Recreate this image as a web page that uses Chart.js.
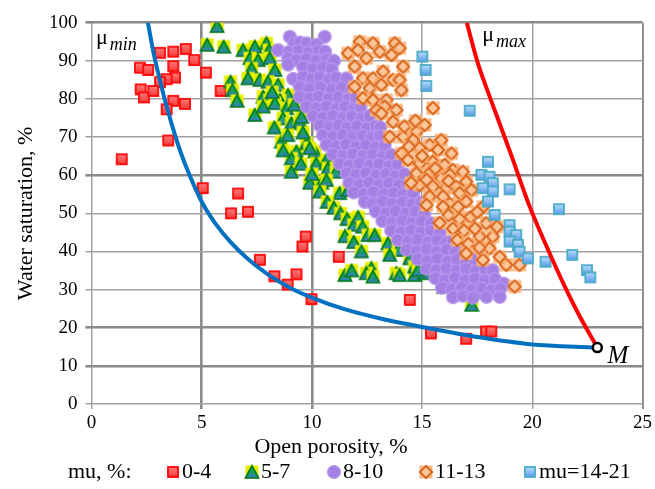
<!DOCTYPE html>
<html>
<head>
<meta charset="utf-8">
<script src="https://cdn.jsdelivr.net/npm/chart.js@4.4.0/dist/chart.umd.min.js"></script>
<style>
  html, body { margin: 0; padding: 0; background: #fff; }
  #wrap { width: 655px; height: 489px; }
</style>
</head>
<body>
<div id="wrap"><canvas id="chart" width="655" height="489"></canvas></div>
<script>
// points are [open porosity %, water saturation %]
var mu0_4 = [
  [3.11,92.1],[3.71,92.4],[4.28,93.1],[4.66,90.2],[2.20,88.2],[2.57,87.6],[3.71,88.6],[3.79,85.6],
  [3.41,85.2],[3.11,84.4],[5.19,86.9],[2.23,82.5],[2.38,80.4],[2.80,82.1],[3.71,79.5],[4.24,78.7],
  [3.41,77.3],[5.86,82.1],[3.48,69.1],[1.37,64.2],[5.05,56.6],[6.65,55.2],[6.33,50.0],[7.10,50.4],
  [7.64,37.8],[8.30,33.5],[8.90,31.3],[9.30,34.0],[9.57,41.3],[9.72,43.9],[9.98,27.5],[11.22,38.6],
  [14.44,27.3],[15.40,18.5],[17.00,17.1],[17.90,19.0],[18.14,19.0]
];
var mu5_7 = [
  [5.70,99.1],[5.25,94.2],[6.00,93.7],[6.88,92.8],[7.41,93.7],[7.94,94.6],[8.06,92.8],[7.19,90.7],
  [7.56,90.2],[8.09,90.7],[7.26,88.0],[8.32,87.6],[6.31,84.5],[6.40,82.3],[6.61,79.5],[7.10,85.4],
  [7.64,85.0],[8.01,84.5],[8.47,83.7],[8.92,81.0],[7.79,80.6],[8.09,79.7],[8.55,79.7],[7.41,75.8],
  [7.79,78.0],[8.32,78.9],[8.85,77.6],[8.69,74.9],[9.07,73.6],[9.45,74.0],[9.53,75.3],[8.62,68.8],
  [9.30,66.2],[9.07,64.4],[9.07,60.9],[9.76,68.4],[10.13,66.2],[9.90,67.1],[10.20,63.1],[10.66,64.0],
  [10.73,61.8],[11.10,60.9],[9.90,58.0],[10.44,58.0],[10.66,58.7],[10.36,55.7],[11.26,55.3],[11.64,56.1],
  [8.20,81.8],[9.20,78.5],[8.30,72.5],[8.90,70.5],[9.60,71.2],[8.70,66.5],[9.50,63.0],[10.00,60.3],
  [10.70,53.0],[11.00,51.5],[11.30,50.0],[11.60,48.5],[11.90,47.0],[12.10,49.0],[12.30,46.5],[11.50,44.0],
  [11.90,42.5],[11.50,33.8],[11.80,35.0],
  [12.25,40.0],[12.55,44.3],[12.85,44.3],[13.45,42.1],[13.91,40.4],[13.53,39.1],[14.44,38.2],[15.04,36.9],
  [12.70,35.6],[12.47,34.3],[12.77,33.4],[13.83,34.3],[13.98,33.8],[14.66,33.8],[15.12,34.3],[14.66,36.0],
  [14.81,35.1],[16.00,30.7],[16.90,33.8],[17.25,26.0],[17.50,29.4]
];
var mu8_10 = [
  [9.00,96.3],[10.58,96.3],
  [9.20,94.6],[9.45,94.8],[9.76,94.6],[10.20,94.2],
  [8.47,92.8],[8.95,92.3],[9.40,92.6],[9.85,92.2],[10.30,92.7],[10.60,92.4],
  [8.92,90.7],[9.30,90.2],[9.75,90.6],[10.20,90.1],[10.65,90.4],[11.00,90.0],
  [8.92,89.0],[9.60,88.4],[10.06,88.0],[10.50,88.3],[10.90,87.8],
  [9.15,85.3],[9.60,85.8],[10.00,85.2],[10.36,85.7],[10.80,85.1],[11.10,85.6],[11.57,85.4],
  [9.45,83.2],[9.90,82.7],[10.40,83.1],[10.90,82.6],[11.35,83.0],[11.80,82.4],
  [9.45,80.6],[9.90,80.2],[10.30,80.7],[10.75,80.1],[11.20,80.5],[11.65,80.0],[12.00,80.4],
  [9.76,78.0],[10.20,77.6],[10.66,78.1],[11.10,77.5],[11.50,78.0],[11.90,77.4],[12.20,77.9],
  [10.06,75.5],[10.50,75.1],[10.95,75.6],[11.40,75.0],[11.80,75.4],[12.25,74.9],[12.62,75.6],
  [10.36,73.0],[10.80,72.6],[11.20,73.1],[11.60,72.5],[12.05,72.9],[12.50,72.4],[12.90,73.0],[13.10,72.6],
  [10.50,70.5],[10.96,70.1],[11.40,70.6],[11.85,70.0],[12.30,70.4],[12.70,69.9],[13.10,70.3],
  [10.66,68.0],[11.10,67.6],[11.55,68.1],[12.00,67.5],[12.45,67.9],[12.90,67.4],[13.30,67.8],
  [10.96,65.5],[11.40,65.1],[11.85,65.6],[12.30,65.0],[12.75,65.4],[13.20,64.9],[13.60,65.3],
  [11.26,63.0],[11.70,62.6],[12.15,63.1],[12.60,62.5],[13.05,62.9],[13.50,62.4],[13.90,62.8],
  [11.57,60.5],[12.00,60.1],[12.45,60.6],[12.90,60.0],[13.35,60.4],[13.80,59.9],[14.20,60.3],
  [11.70,58.0],[12.15,57.6],[12.60,58.1],[13.05,57.5],[13.50,57.9],[13.95,57.4],[14.35,57.8],
  [11.90,55.5],[12.35,55.1],[12.80,55.6],[13.25,55.0],[13.70,55.4],[14.15,54.9],[14.60,55.3],
  [12.40,53.0],[12.75,52.6],[13.20,53.1],[13.65,52.5],[14.10,52.9],[14.55,52.4],[14.95,52.8],
  [12.90,50.5],[13.35,50.1],[13.80,50.6],[14.25,50.0],[14.70,50.4],[15.10,49.9],
  [13.20,48.0],[13.65,47.6],[14.10,48.1],[14.55,47.5],[15.00,47.9],[15.40,47.4],
  [13.60,45.5],[14.05,45.1],[14.50,45.6],[14.95,45.0],[15.40,45.4],[15.80,44.9],
  [13.90,43.0],[14.35,42.6],[14.80,43.1],[15.25,42.5],[15.70,42.9],[16.10,42.4],[16.40,42.8],
  [14.30,40.5],[14.75,40.1],[15.20,40.6],[15.65,40.0],[16.10,40.4],[16.50,39.9],[16.90,40.3],
  [14.80,38.0],[15.25,37.6],[15.70,38.1],[16.15,37.5],[16.60,37.9],[17.00,37.4],[17.40,37.8],
  [15.20,35.5],[15.65,35.1],[16.10,35.6],[16.55,35.0],[17.00,35.4],[17.45,34.9],[17.85,35.3],[18.20,35.1],
  [15.60,33.0],[16.05,32.6],[16.50,33.1],[16.95,32.5],[17.40,32.9],[17.85,32.4],[18.30,32.8],[18.70,31.6],
  [15.90,30.5],[16.35,30.1],[16.80,30.6],[17.25,30.0],[17.70,30.4],[18.15,29.9],[18.55,30.3],
  [16.40,28.0],[16.85,28.4],[17.30,27.9],[17.92,28.1],[18.52,28.1]
];
var mu11_13 = [
  [12.17,95.0],[12.77,94.6],[13.76,94.6],[13.98,93.3],[11.64,92.0],[12.09,92.8],[13.08,92.4],[13.61,91.5],
  [12.47,90.7],[11.94,88.5],[14.14,88.5],[12.32,85.4],[12.77,85.4],[13.23,87.2],[13.68,85.0],[13.98,85.0],
  [11.94,83.2],[12.62,82.8],[13.15,83.7],[14.06,82.3],[12.32,80.2],[12.77,79.7],[13.38,79.7],[13.83,77.1],
  [13.30,78.0],[15.49,77.6],[12.93,77.1],[13.68,74.0],[13.15,76.2],[14.74,71.4],[15.12,73.2],[13.53,70.1],
  [14.14,70.1],[14.59,69.2],[15.34,67.9],[15.87,69.2],[16.33,65.7],[15.72,66.6],[14.89,67.1],[14.06,65.7],
  [14.36,64.0],[14.89,63.1],[15.49,63.5],[16.02,62.7],[16.40,61.4],[14.74,60.5],[15.34,60.5],[15.87,59.2],
  [14.89,57.4],[15.49,57.0],[16.10,56.6],[16.55,57.0],[15.34,54.4],[15.95,54.4],[16.85,60.9],[16.25,60.1],
  [17.00,58.3],[16.70,55.3],[17.24,56.1],[17.00,53.1],[16.25,52.5],[15.20,52.2],[15.95,51.7],[16.63,51.7],
  [17.76,51.7],[17.91,47.4],[18.21,43.9],[17.61,43.9],[18.06,40.8],[18.82,36.5],[19.42,36.5],[19.20,30.8],
  [18.52,38.6],[17.76,37.8],[16.20,49.5],[16.70,48.5],[17.20,49.0],[15.80,47.5],[16.40,46.0],[16.90,45.5],
  [17.40,46.0],[16.60,43.0],[17.10,42.0],[17.60,41.0],[17.00,39.5],[18.40,46.5],[17.50,50.3],
  [14.40,67.5],[15.00,65.0],[15.60,61.8],[16.20,58.5],[15.20,58.8],[14.50,58.0],[14.20,72.8],[14.70,74.3]
];
var mu14_21 = [
  [15.01,91.1],[15.16,87.6],[15.19,83.4],[17.16,76.9],[17.99,63.5],[17.69,60.1],[18.06,59.6],[18.21,57.9],
  [17.76,56.6],[18.21,55.7],[17.99,53.1],[18.97,56.3],[18.29,49.6],[21.21,51.1],[18.97,46.9],[18.97,45.2],
  [19.27,44.3],[18.97,42.6],[19.35,41.7],[19.42,39.9],[19.80,38.2],[20.60,37.3],[21.81,39.1],[22.48,35.1],
  [22.63,33.2]
];
// boundary curves
var muMin = [
  [2.56,100],[2.80,92.5],[3.10,85.0],[3.41,78.0],[3.90,68.5],[4.24,63.0],[4.60,58.0],[5.05,52.5],
  [5.60,47.5],[6.30,42.5],[7.10,38.0],[8.00,34.0],[9.00,30.5],[10.0,27.9],[11.4,25.0],[13.2,22.3],
  [15.2,20.0],[17.6,17.5],[19.9,15.7],[22.95,14.8]
];
var muMax = [
  [17.03,100],[17.55,89.0],[18.2,78.5],[19.0,66.0],[19.9,51.5],[20.75,40.0],[21.5,30.5],[22.15,23.0],
  [22.95,14.8]
];
var pointM = [[22.95,14.8]];
var legendLabels = ['0-4', '5-7', '8-10', '11-13', 'mu=14-21'];

var SERIF = '"Liberation Serif", "Times New Roman", serif';

function toXY(arr) {
  return arr.map(function (p) { return { x: p[0], y: p[1] }; });
}

// marker pictures, one small canvas per series
function marker(kind) {
  var c = document.createElement('canvas');
  var s = 16;
  c.width = s; c.height = s;
  var g = c.getContext('2d');
  var grad;
  if (kind == 'red') {
    g.fillStyle = 'rgba(255,130,130,0.55)';
    g.fillRect(2, 2, 12, 12);
    grad = g.createLinearGradient(0, 3, 0, 13);
    grad.addColorStop(0, '#ff7b7b');
    grad.addColorStop(1, '#f23a3a');
    g.fillStyle = grad;
    g.fillRect(3, 3, 10, 10);
    g.strokeStyle = '#ff0000';
    g.lineWidth = 1.7;
    g.strokeRect(3, 3, 10, 10);
  } else if (kind == 'green') {
    grad = g.createLinearGradient(0, 1, 0, 15);
    grad.addColorStop(0, '#eef200');
    grad.addColorStop(1, '#c4e400');
    g.fillStyle = grad;
    g.fillRect(1.5, 1.5, 13, 13);
    g.beginPath();
    g.moveTo(8, 1.8); g.lineTo(14.6, 14); g.lineTo(1.4, 14); g.closePath();
    grad = g.createLinearGradient(0, 2, 0, 14);
    grad.addColorStop(0, '#22b04e');
    grad.addColorStop(0.6, '#1f9a6a');
    grad.addColorStop(1, '#3a78d8');
    g.fillStyle = grad;
    g.fill();
    g.strokeStyle = '#007a22';
    g.lineWidth = 1.6;
    g.stroke();
  } else if (kind == 'purple') {
    g.beginPath();
    g.arc(8, 8, 6.4, 0, Math.PI * 2);
    g.fillStyle = '#a47fe4';
    g.fill();
    g.strokeStyle = '#b899ec';
    g.lineWidth = 1.3;
    g.stroke();
  } else if (kind == 'orange') {
    g.fillStyle = 'rgba(250,176,118,0.9)';
    g.fillRect(1.5, 1.5, 13, 13);
    g.beginPath();
    g.moveTo(8, 1.8); g.lineTo(14.2, 8); g.lineTo(8, 14.2); g.lineTo(1.8, 8); g.closePath();
    g.fillStyle = '#fcc699';
    g.fill();
    g.strokeStyle = '#d8641a';
    g.lineWidth = 1.9;
    g.stroke();
  } else {
    grad = g.createLinearGradient(0, 3, 0, 13);
    grad.addColorStop(0, '#b7ddfa');
    grad.addColorStop(1, '#5a9be9');
    g.fillStyle = grad;
    g.fillRect(3, 3, 10, 10);
    g.strokeStyle = '#4aabc6';
    g.lineWidth = 1.8;
    g.strokeRect(3, 3, 10, 10);
  }
  return c;
}

var markers = ['red', 'green', 'purple', 'orange', 'blue'].map(marker);

function scatterSet(label, pts, img, order) {
  return {
    label: label,
    data: toXY(pts),
    pointStyle: img,
    pointRadius: 7,
    pointHoverRadius: 7,
    showLine: false,
    order: order
  };
}

function gridWidth(ctx, thick) {
  return thick.indexOf(ctx.tick.value) >= 0 ? 2.6 : 1.5;
}
function gridColor(ctx, thick) {
  return thick.indexOf(ctx.tick.value) >= 0 ? '#8a8a8a' : '#a3a3a3';
}

// free text: mu labels, point M, x title and the legend row
var notes = {
  id: 'notes',
  afterDraw: function (chart) {
    var ctx = chart.ctx;
    var xs = chart.scales.x, ys = chart.scales.y;
    ctx.save();
    ctx.fillStyle = '#000';
    ctx.textAlign = 'left';
    ctx.textBaseline = 'alphabetic';

    function mu(sub, vx, vy) {
      var px = xs.getPixelForValue(vx), py = ys.getPixelForValue(vy);
      ctx.font = '22px ' + SERIF;
      ctx.fillText('\u03bc', px, py);
      var w = ctx.measureText('\u03bc').width;
      ctx.font = 'italic 18px ' + SERIF;
      ctx.fillText(sub, px + w + 2, py + 6);
    }
    mu('min', 0.2, 94.4);
    mu('max', 17.73, 95.2);

    ctx.font = 'italic 25px ' + SERIF;
    ctx.fillText('M', xs.getPixelForValue(23.41), ys.getPixelForValue(10.75));

    ctx.textBaseline = 'middle';
    ctx.font = '22px ' + SERIF;
    ctx.textAlign = 'center';
    ctx.fillText('Open porosity, %', 331, 447);

    ctx.textAlign = 'left';
    ctx.fillText('mu, %:', 68, 472);
    var itemX = [173, 252, 334, 426, 530];
    for (var i = 0; i < legendLabels.length; i++) {
      var m = markers[i];
      ctx.drawImage(m, itemX[i] - m.width / 2, 472 - m.height / 2);
      ctx.fillText(legendLabels[i], itemX[i] + 9, 472);
    }
    ctx.restore();
  }
};

var chart = new Chart(document.getElementById('chart'), {
  type: 'scatter',
  data: {
    datasets: [
      scatterSet(legendLabels[0], mu0_4, markers[0], 6),
      scatterSet(legendLabels[1], mu5_7, markers[1], 5),
      scatterSet(legendLabels[2], mu8_10, markers[2], 4),
      scatterSet(legendLabels[3], mu11_13, markers[3], 3),
      scatterSet(legendLabels[4], mu14_21, markers[4], 2),
      {
        label: 'mu min',
        data: toXY(muMin),
        showLine: true,
        borderColor: '#0070c0',
        borderWidth: 4,
        pointRadius: 0,
        cubicInterpolationMode: 'monotone',
        order: 1
      },
      {
        label: 'mu max',
        data: toXY(muMax),
        showLine: true,
        borderColor: '#ff0000',
        borderWidth: 4,
        pointRadius: 0,
        tension: 0.3,
        order: 1
      },
      {
        label: 'M',
        data: toXY(pointM),
        pointStyle: 'circle',
        pointRadius: 4.5,
        pointBorderWidth: 2.5,
        pointBorderColor: '#000',
        pointBackgroundColor: '#fff',
        order: 0
      }
    ]
  },
  options: {
    responsive: false,
    animation: false,
    events: [],
    layout: { padding: { top: 22.7, right: 12, left: 0, bottom: 0 } },
    plugins: {
      legend: { display: false },
      tooltip: { enabled: false }
    },
    scales: {
      x: {
        type: 'linear',
        min: 0, max: 25,
        afterFit: function (s) { s.height = 85; },
        border: { display: false },
        grid: {
          lineWidth: function (c) { return gridWidth(c, [5, 10]) + (c.tick.value == 25 ? 0.4 : 0); },
          color: function (c) { return gridColor(c, [5, 10, 25]); },
          tickLength: 5
        },
        ticks: {
          stepSize: 5,
          color: '#000',
          padding: 3,
          font: { family: SERIF, size: 19 }
        }
      },
      y: {
        type: 'linear',
        min: 0, max: 100,
        afterFit: function (s) { s.width = 91.5; },
        border: { display: false },
        grid: {
          lineWidth: function (c) { return gridWidth(c, [10, 20, 60, 100]); },
          color: function (c) { return gridColor(c, [10, 20, 60, 100]); },
          tickLength: 6
        },
        ticks: {
          stepSize: 10,
          color: '#000',
          padding: 8,
          font: { family: SERIF, size: 19 }
        },
        title: {
          display: true,
          text: 'Water saturation, %',
          color: '#000',
          font: { family: SERIF, size: 22 },
          padding: { top: 13, bottom: 0 }
        }
      }
    }
  },
  plugins: [notes]
});
</script>
</body>
</html>
